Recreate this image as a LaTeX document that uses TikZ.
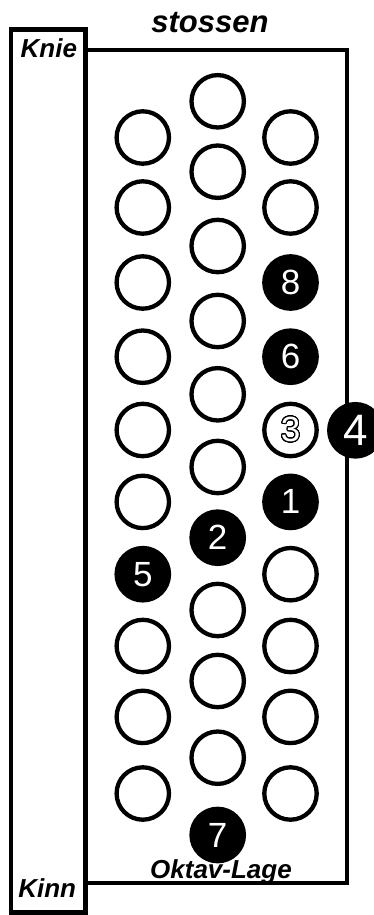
\documentclass[tikz,border=0pt]{standalone}
\usepackage{fontspec}
\setmainfont{Liberation Sans}
\usepackage{contour}
\contourlength{1pt}
\contournumber{32}

\begin{document}
\begin{tikzpicture}[x=1pt,y=-1pt,line width=4.3pt,
  key/.style={circle,draw,line width=4.3pt,minimum size=52.4pt,inner sep=0pt},
  keyon/.style={key,fill=black,text=white,font=\fontsize{35}{35}\selectfont},
  lbl/.style={anchor=base,inner sep=0pt,font=\fontsize{26}{26}\selectfont\bfseries\itshape}]
\path[use as bounding box] (0,0) rectangle (374,915);
\draw (10.8,29.5) rectangle (85.5,912.5);
\draw[fill=white] (85.5,50) rectangle (347,883);
\node[lbl,font=\fontsize{31}{31}\selectfont\bfseries\itshape] (stossen) at (210,32.7) {stossen};
\node[lbl] (knie) at (48.8,57.5) {Knie};
\node[lbl] (kinn) at (47.2,897) {Kinn};
\node[lbl] (lage) at (221,878.3) {Oktav-Lage};
% left row
\node[key] (l0) at (142.8,137.5) {};
\node[key] (l1) at (142.8,207.5) {};
\node[key] (l2) at (142.8,282.5) {};
\node[key] (l3) at (142.8,356.7) {};
\node[key] (l4) at (142.8,430.0) {};
\node[key] (l5) at (142.8,501.9) {};
\node[keyon] (l6) at (142.8,574.2) {5};
\node[key] (l7) at (142.8,646.0) {};
\node[key] (l8) at (142.8,716.9) {};
\node[key] (l9) at (142.8,793.5) {};
% middle row
\node[key] (m0) at (217.7,101.3) {};
\node[key] (m1) at (217.7,171.7) {};
\node[key] (m2) at (217.7,246.0) {};
\node[key] (m3) at (217.7,321.0) {};
\node[key] (m4) at (217.7,394.3) {};
\node[key] (m5) at (217.7,467.0) {};
\node[keyon] (m6) at (217.7,537.7) {2};
\node[key] (m7) at (217.7,610.0) {};
\node[key] (m8) at (217.7,681.0) {};
\node[key] (m9) at (217.7,757.7) {};
\node[keyon] (m10) at (217.7,835.0) {7};
% right row
\node[key] (r0) at (290.5,137.5) {};
\node[key] (r1) at (290.5,207.5) {};
\node[keyon] (r2) at (290.5,282.5) {8};
\node[keyon] (r3) at (290.5,356.7) {6};
\node[key,text=white,font=\fontsize{35}{35}\selectfont] (r4) at (290.5,430.0) {\contour{black}{3}};
\node[keyon] (r5) at (290.5,501.9) {1};
\node[key] (r6) at (290.5,574.2) {};
\node[key] (r7) at (290.5,646.0) {};
\node[key] (r8) at (290.5,716.9) {};
\node[key] (r9) at (290.5,793.5) {};
\node[keyon,font=\fontsize{44}{44}\selectfont] (extra) at (355.4,430.3) {4};
\end{tikzpicture}
\end{document}
